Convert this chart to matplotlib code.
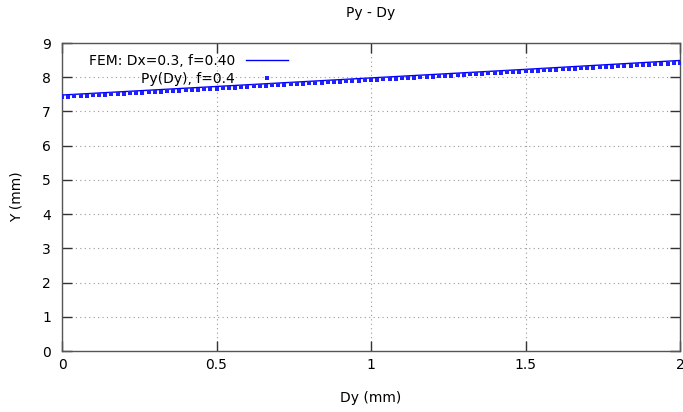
import matplotlib.pyplot as plt
import numpy as np

# FEM curve
fem_x = [0.0, 0.5, 1.0, 1.5, 2.0]
fem_y = [7.48, 7.73, 7.98, 8.23, 8.49]

# Py(Dy) points, dx = 0.02
py_x = np.round(np.arange(0, 101) * 0.02, 2)
py_y = [7.42, 7.43, 7.44, 7.45, 7.46, 7.47, 7.48, 7.49, 7.50, 7.51,
        7.52, 7.53, 7.54, 7.55, 7.56, 7.57, 7.58, 7.59, 7.60, 7.61,
        7.62, 7.63, 7.64, 7.65, 7.66, 7.67, 7.68, 7.69, 7.70, 7.71,
        7.72, 7.73, 7.74, 7.75, 7.76, 7.77, 7.78, 7.79, 7.80, 7.81,
        7.82, 7.83, 7.84, 7.85, 7.86, 7.87, 7.88, 7.89, 7.90, 7.91,
        7.92, 7.93, 7.94, 7.95, 7.96, 7.97, 7.98, 7.99, 8.00, 8.01,
        8.02, 8.03, 8.04, 8.05, 8.06, 8.07, 8.08, 8.09, 8.10, 8.11,
        8.12, 8.13, 8.14, 8.15, 8.16, 8.17, 8.18, 8.19, 8.20, 8.21,
        8.22, 8.23, 8.24, 8.25, 8.26, 8.27, 8.28, 8.29, 8.30, 8.31,
        8.32, 8.33, 8.34, 8.35, 8.36, 8.37, 8.38, 8.39, 8.40, 8.41,
        8.42]

xticks = [0, 0.5, 1, 1.5, 2]
xtick_labels = ['0', '0.5', '1', '1.5', '2']
yticks = list(range(0, 10))

plt.rcParams['font.family'] = 'DejaVu Sans'
plt.rcParams['font.size'] = 10

fig = plt.figure(figsize=(6.83, 4.12), dpi=100)
ax = fig.add_axes([0.0908, 0.148, 0.9048, 0.7476])

ax.plot(fem_x, fem_y, color='#0000ff', lw=1.0, label='FEM: Dx=0.3, f=0.40', zorder=3)
ax.plot(py_x, py_y, ls='none', marker='s', ms=2.2, mew=0, color='#2020ff',
        label='Py(Dy), f=0.4', zorder=3)

ax.set_xlim(0, 2)
ax.set_ylim(0, 9)
ax.set_xticks(xticks)
ax.set_xticklabels(xtick_labels)
ax.set_yticks(yticks)
ax.tick_params(direction='in', top=True, right=True, length=7, width=1,
               color='#333333', labelsize=10, pad=5)
ax.tick_params(axis='y', pad=8)
for s in ax.spines.values():
    s.set_color('#555555')
    s.set_linewidth(1.0)
ax.grid(True, color='#999999', ls=(0, (1, 3)), lw=0.8)

ax.set_title('Py - Dy', fontsize=10, pad=19)
ax.set_xlabel('Dy (mm)', fontsize=10, labelpad=14)
ax.set_ylabel('Y (mm)', fontsize=10, labelpad=13)

ax.legend(loc='upper left', bbox_to_anchor=(0.025, 1.0), frameon=False,
          markerfirst=False, numpoints=1, handlelength=3.0, fontsize=10,
          labelspacing=0.3, handletextpad=0.8, borderaxespad=0.4)

plt.savefig('out.png', dpi=100)
